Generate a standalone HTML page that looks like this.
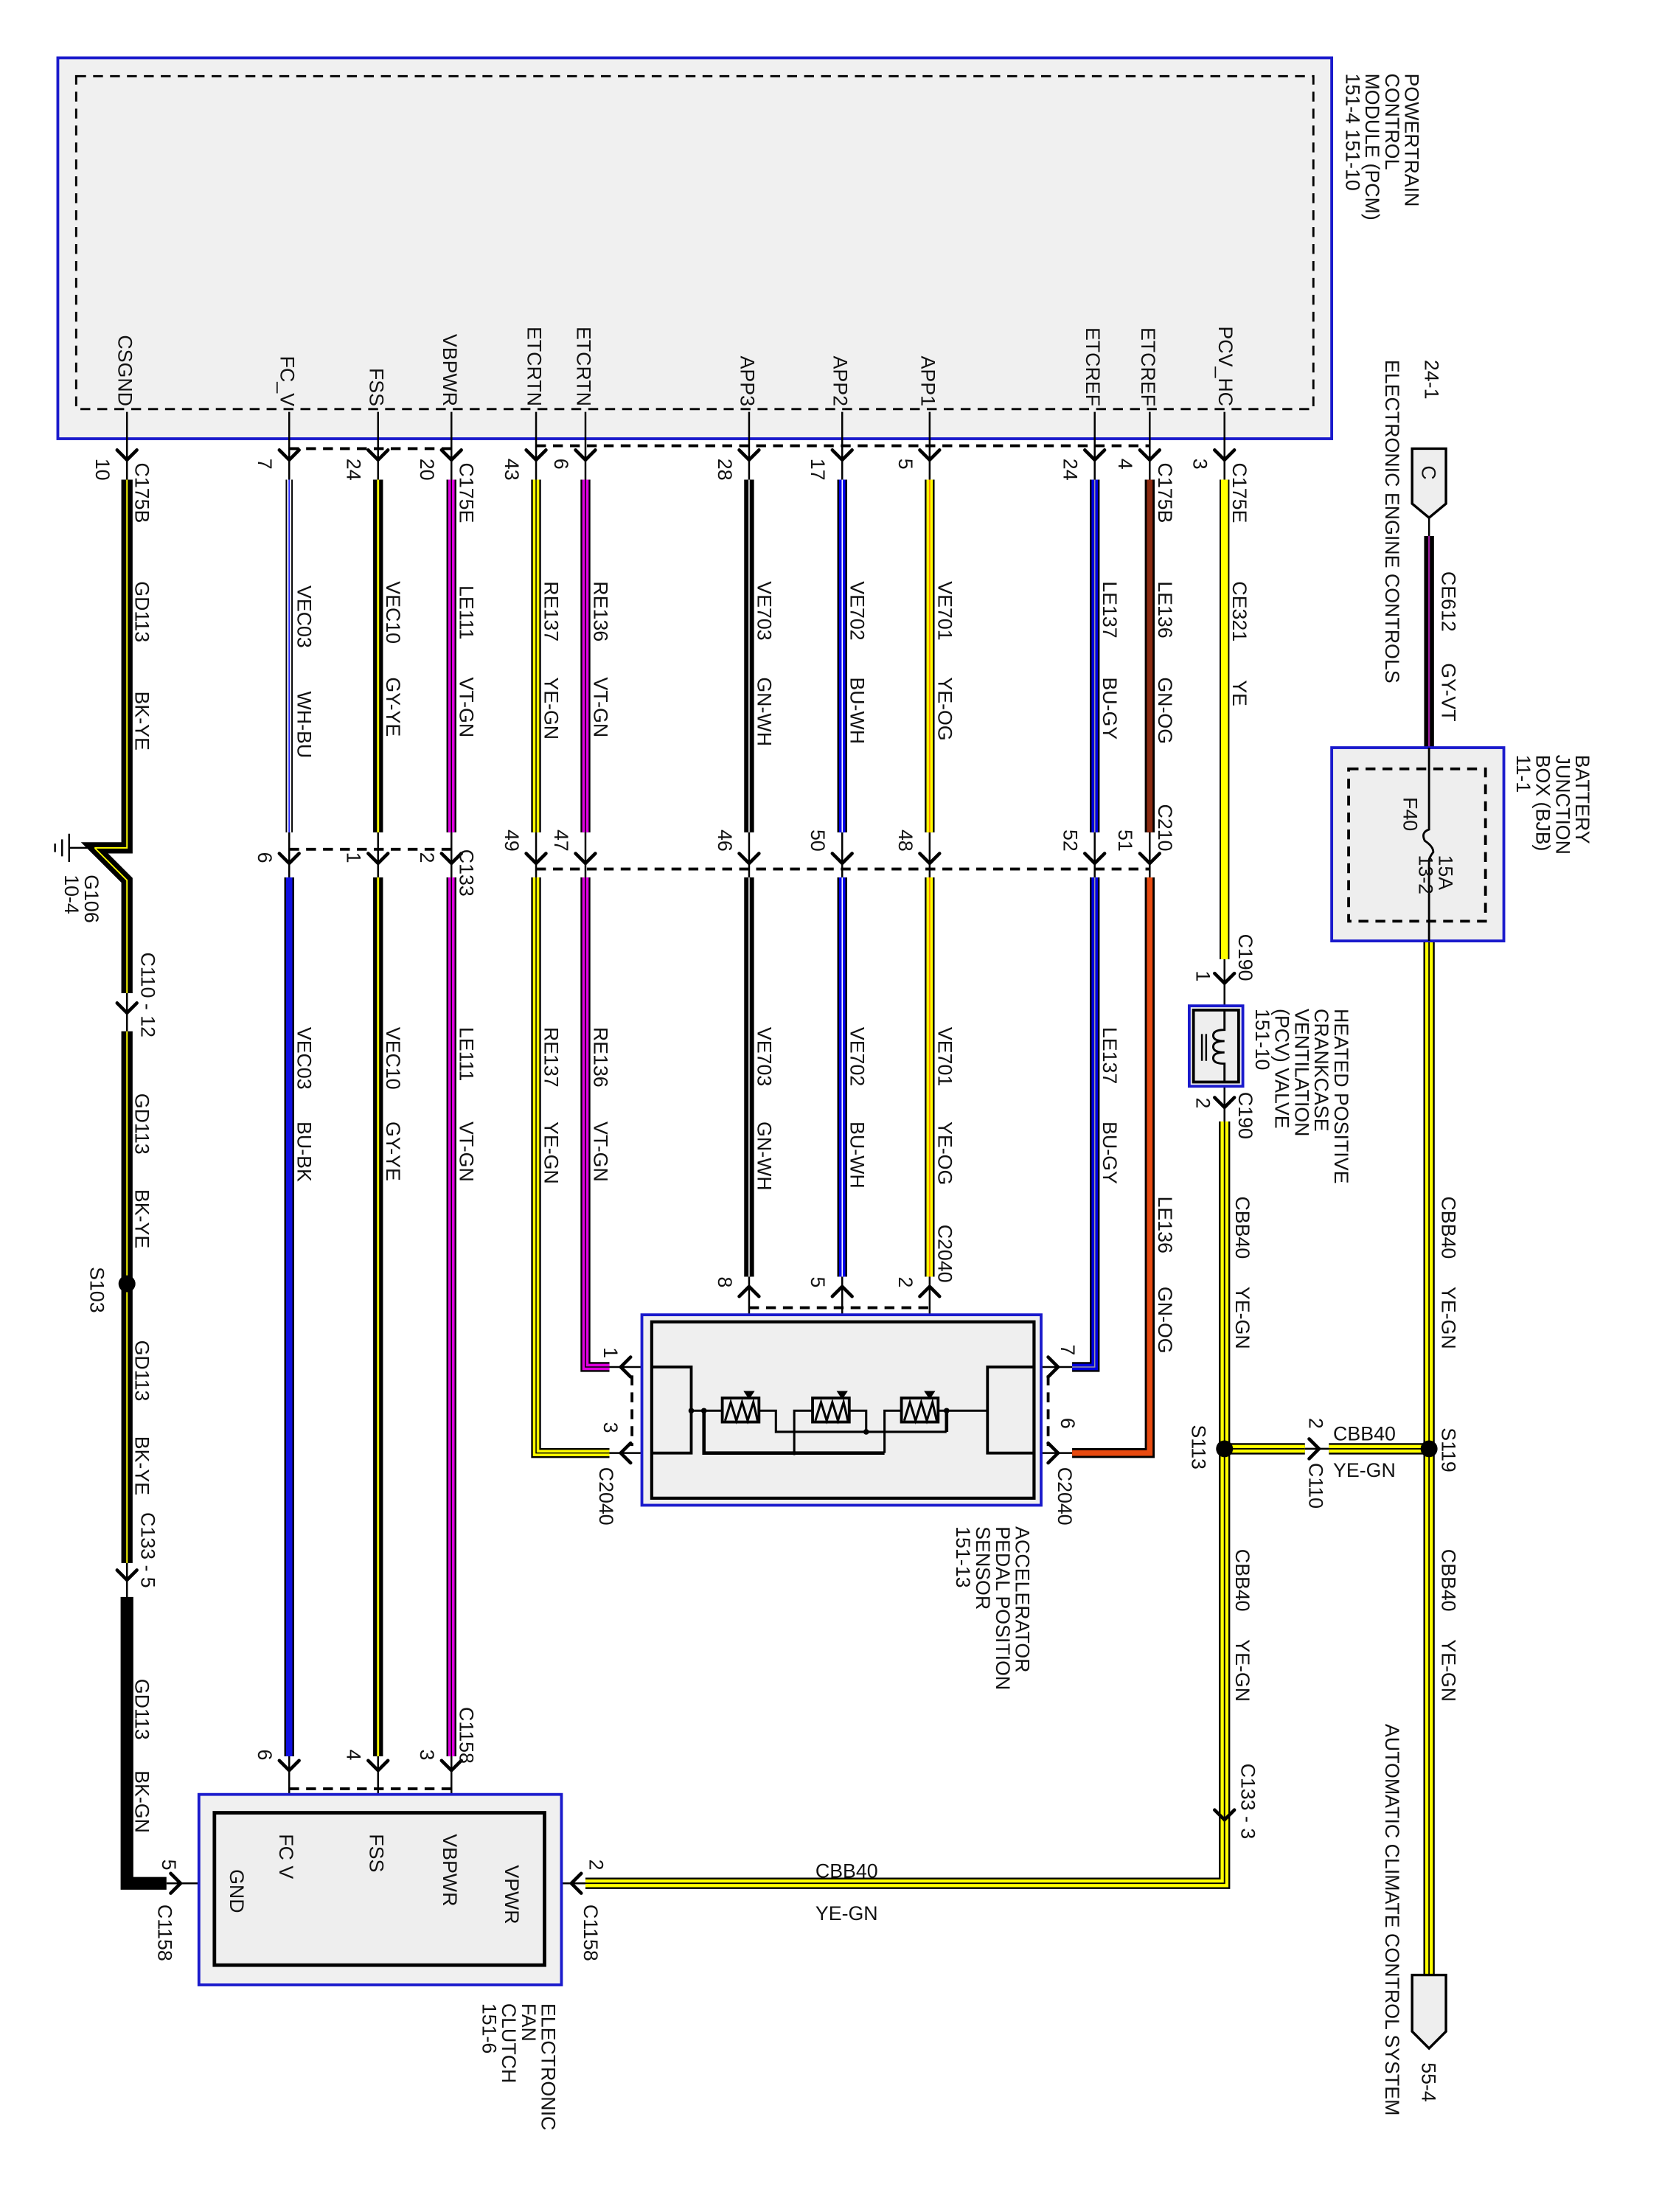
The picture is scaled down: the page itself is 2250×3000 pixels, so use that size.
<!DOCTYPE html>
<html><head><meta charset="utf-8"><style>
html,body{margin:0;padding:0;background:#fff;}
svg{display:block;}
text{font-family:"Liberation Sans",Arial,sans-serif;font-size:14px;fill:#111;}
.o{fill:none;stroke:#000;stroke-linejoin:miter;}
.t{fill:none;stroke:#000;stroke-width:1.3;}
.ch{fill:none;stroke:#000;stroke-width:2.4;stroke-linecap:round;}
.d{fill:none;stroke:#000;stroke-width:2;stroke-dasharray:7 5;}
</style></head><body>
<svg width="2250" height="3000" viewBox="0 0 1176 1568" preserveAspectRatio="none" xmlns="http://www.w3.org/2000/svg">
<rect x="0" y="0" width="1176" height="1568" fill="#fff"/>

<!-- PCM -->
<rect x="41" y="41" width="903" height="270" fill="#f0f0f0" stroke="#1a1acc" stroke-width="2"/>
<rect x="54" y="54" width="877" height="236" fill="none" stroke="#000" stroke-width="1.5" stroke-dasharray="7 5"/>
<g>
<text transform="translate(996,52) rotate(90)">POWERTRAIN</text>
<text transform="translate(982,52) rotate(90)">CONTROL</text>
<text transform="translate(968,52) rotate(90)">MODULE (PCM)</text>
<text transform="translate(954,52) rotate(90)">151-4   151-10</text>
</g>
<g text-anchor="end">
<text transform="translate(84,288) rotate(90)">CSGND</text>
<text transform="translate(199,288) rotate(90)">FC_V</text>
<text transform="translate(262,288) rotate(90)">FSS</text>
<text transform="translate(314,288) rotate(90)">VBPWR</text>
<text transform="translate(374,288) rotate(90)">ETCRTN</text>
<text transform="translate(409,288) rotate(90)">ETCRTN</text>
<text transform="translate(525,288) rotate(90)">APP3</text>
<text transform="translate(591,288) rotate(90)">APP2</text>
<text transform="translate(653,288) rotate(90)">APP1</text>
<text transform="translate(770,288) rotate(90)">ETCREF</text>
<text transform="translate(809,288) rotate(90)">ETCREF</text>
<text transform="translate(864,288) rotate(90)">PCV_HC</text>
</g>

<g class="t">
<path d="M90 292V342M205 292V342M268 292V342M320 292V342M380 292V342M415 292V342M531 292V342M597 292V342M659 292V342M776 292V342M815 292V342M868 292V342"/>
<path d="M205 588V624M268 588V624M320 588V624M380 588V624M415 588V624M531 588V624M597 588V624M659 588V624M776 588V624M815 588V624"/>
<path d="M90 700V735M90 1105V1135M868 680V800M1013 366V382M1013 528V669M1013 1396V1402"/>
<path d="M205 1240V1285M268 1240V1285M320 1240V1285"/>
<path d="M531 905V993M597 905V993M659 905V993"/>
<path d="M425 969H462M425 1030H462M733 969H762M733 1030H762M398 1335H418M118 1335H152M925 1027H945"/>
</g>
<g class="d">
<path d="M205 318H320M380 316H815"/>
<path d="M205 602H320M380 616H815"/>
<path d="M205 1268H320"/>
<path d="M531 927H659"/>
<path d="M448 975V1025M743 975V1025"/>
</g>

<!-- WIRES -->
<path class="o" stroke-width="8" d="M90 340V601H67L90 624V704M90 731V1108"/>
<path fill="none" stroke="#ff0" stroke-width="1" d="M90 340V601H67L90 624V704M90 731V1108"/>
<path class="o" stroke-width="9" d="M90 1132V1335H118"/>
<path class="t" stroke-width="1.5" d="M67 601H49M49 591V611M44 595V607M39 598V604"/>
<path class="o" stroke-width="5" d="M205 340V590"/>
<path fill="none" stroke="#fff" stroke-width="3" d="M205 340V590"/>
<path fill="none" stroke="#2222ff" stroke-width="1" d="M205 340V590"/>
<path class="o" stroke-width="7" d="M205 622V1245"/>
<path fill="none" stroke="#1010e0" stroke-width="4.5" d="M205 622V1245"/>
<path class="o" stroke-width="7" d="M268 340V590M268 622V1245"/>
<path fill="none" stroke="#ff0" stroke-width="1.5" d="M268 340V590M268 622V1245"/>
<path class="o" stroke-width="7" d="M320 340V590M320 622V1245"/>
<path fill="none" stroke="#e000e0" stroke-width="4.5" d="M320 340V590M320 622V1245"/>
<path fill="none" stroke="#000" stroke-width="0.8" d="M320 340V590M320 622V1245"/>
<path class="o" stroke-width="7" d="M380 340V590M380 622V1030H432"/>
<path fill="none" stroke="#ff0" stroke-width="4.5" d="M380 340V590M380 622V1030H432"/>
<path fill="none" stroke="#000" stroke-width="0.8" d="M380 340V590M380 622V1030H432"/>
<path class="o" stroke-width="7" d="M415 340V590M415 622V969H432"/>
<path fill="none" stroke="#e000e0" stroke-width="4.5" d="M415 340V590M415 622V969H432"/>
<path fill="none" stroke="#000" stroke-width="0.8" d="M415 340V590M415 622V969H432"/>
<path class="o" stroke-width="7" d="M531 340V590M531 622V905"/>
<path fill="none" stroke="#fff" stroke-width="0.8" d="M531 340V590M531 622V905"/>
<path class="o" stroke-width="7" d="M597 340V590M597 622V905"/>
<path fill="none" stroke="#0000ee" stroke-width="4.5" d="M597 340V590M597 622V905"/>
<path fill="none" stroke="#fff" stroke-width="0.8" d="M597 340V590M597 622V905"/>
<path class="o" stroke-width="7" d="M659 340V590M659 622V905"/>
<path fill="none" stroke="#ff0" stroke-width="4.5" d="M659 340V590M659 622V905"/>
<path fill="none" stroke="#f80" stroke-width="1" d="M659 340V590M659 622V905"/>
<path class="o" stroke-width="7" d="M776 340V590M776 622V969H760"/>
<path fill="none" stroke="#0000dd" stroke-width="4.5" d="M776 340V590M776 622V969H760"/>
<path fill="none" stroke="#999" stroke-width="0.8" d="M776 340V590M776 622V969H760"/>
<path class="o" stroke-width="7" d="M815 340V590M815 622V1030H760"/>
<path fill="none" stroke="#8b2a10" stroke-width="4" d="M815 340V590"/>
<path fill="none" stroke="#e84a10" stroke-width="4" d="M815 622V1030H760"/>
<path class="o" stroke-width="7" d="M868 340V680"/>
<path fill="none" stroke="#ff0" stroke-width="5" d="M868 340V680"/>
<path class="o" stroke-width="8" d="M868 795V1335H415M1013 667V1400M868 1027H925M942 1027H1013"/>
<path fill="none" stroke="#ff0" stroke-width="5.5" d="M868 795V1335H415M1013 667V1400M868 1027H925M942 1027H1013"/>
<path fill="none" stroke="#000" stroke-width="1" d="M868 795V1335H415M1013 667V1400M868 1027H925M942 1027H1013"/>
<path class="o" stroke-width="7" d="M1013 380V530"/>
<path fill="none" stroke="#a020a0" stroke-width="1.2" d="M1013 380V530"/>

<circle cx="90" cy="910" r="6" fill="#000"/>
<circle cx="868" cy="1027" r="6" fill="#000"/>
<circle cx="1013" cy="1027" r="6" fill="#000"/>

<g class="ch">
<path d="M83 319L90 326L97 319M198 319L205 326L212 319M261 319L268 326L275 319M313 319L320 326L327 319M373 319L380 326L387 319M408 319L415 326L422 319M524 319L531 326L538 319M590 319L597 326L604 319M652 319L659 326L666 319M769 319L776 326L783 319M808 319L815 326L822 319M861 319L868 326L875 319"/>
<path d="M198 605L205 612L212 605M261 605L268 612L275 605M313 605L320 612L327 605M373 605L380 612L387 605M408 605L415 612L422 605M524 605L531 612L538 605M590 605L597 612L604 605M652 605L659 612L666 605M769 605L776 612L783 605M808 605L815 612L822 605"/>
<path d="M83 711L90 718L97 711M83 1113L90 1120L97 1113M861 1283L868 1290L875 1283M861 690L868 697L875 690M861 778L868 785L875 778"/>
<path d="M198 1248L205 1255L212 1248M261 1248L268 1255L275 1248M313 1248L320 1255L327 1248"/>
<path d="M524 919L531 912L538 919M590 919L597 912L604 919M652 919L659 912L666 919"/>
<path d="M447 962L440 969L447 976M447 1023L440 1030L447 1037M412 1328L405 1335L412 1342"/>
<path d="M743 962L750 969L743 976M743 1023L750 1030L743 1037M928 1020L935 1027L928 1034M121 1328L128 1335L121 1342"/>
</g>

<g>
<text transform="translate(68,325) rotate(90)">10</text>
<text transform="translate(96,328) rotate(90)">C175B</text>
<text transform="translate(183,325) rotate(90)">7</text>
<text transform="translate(246,325) rotate(90)">24</text>
<text transform="translate(298,325) rotate(90)">20</text>
<text transform="translate(326,328) rotate(90)">C175E</text>
<text transform="translate(358,325) rotate(90)">43</text>
<text transform="translate(393,325) rotate(90)">6</text>
<text transform="translate(509,325) rotate(90)">28</text>
<text transform="translate(575,325) rotate(90)">17</text>
<text transform="translate(637,325) rotate(90)">5</text>
<text transform="translate(754,325) rotate(90)">24</text>
<text transform="translate(793,325) rotate(90)">4</text>
<text transform="translate(821,328) rotate(90)">C175B</text>
<text transform="translate(846,325) rotate(90)">3</text>
<text transform="translate(874,328) rotate(90)">C175E</text>
</g>
<g>
<text transform="translate(96,412) rotate(90)">GD113</text><text transform="translate(96,490) rotate(90)">BK-YE</text>
<text transform="translate(211,415) rotate(90)">VEC03</text><text transform="translate(211,490) rotate(90)">WH-BU</text>
<text transform="translate(274,412) rotate(90)">VEC10</text><text transform="translate(274,480) rotate(90)">GY-YE</text>
<text transform="translate(326,415) rotate(90)">LE111</text><text transform="translate(326,480) rotate(90)">VT-GN</text>
<text transform="translate(386,412) rotate(90)">RE137</text><text transform="translate(386,480) rotate(90)">YE-GN</text>
<text transform="translate(421,412) rotate(90)">RE136</text><text transform="translate(421,480) rotate(90)">VT-GN</text>
<text transform="translate(537,412) rotate(90)">VE703</text><text transform="translate(537,480) rotate(90)">GN-WH</text>
<text transform="translate(603,412) rotate(90)">VE702</text><text transform="translate(603,480) rotate(90)">BU-WH</text>
<text transform="translate(665,412) rotate(90)">VE701</text><text transform="translate(665,480) rotate(90)">YE-OG</text>
<text transform="translate(782,412) rotate(90)">LE137</text><text transform="translate(782,480) rotate(90)">BU-GY</text>
<text transform="translate(821,412) rotate(90)">LE136</text><text transform="translate(821,480) rotate(90)">GN-OG</text>
<text transform="translate(874,412) rotate(90)">CE321</text><text transform="translate(874,482) rotate(90)">YE</text>
</g>
<g>
<text transform="translate(183,604) rotate(90)">6</text>
<text transform="translate(246,604) rotate(90)">1</text>
<text transform="translate(298,604) rotate(90)">2</text>
<text transform="translate(326,602) rotate(90)">C133</text>
<text transform="translate(358,588) rotate(90)">49</text>
<text transform="translate(393,588) rotate(90)">47</text>
<text transform="translate(509,588) rotate(90)">46</text>
<text transform="translate(575,588) rotate(90)">50</text>
<text transform="translate(637,588) rotate(90)">48</text>
<text transform="translate(754,588) rotate(90)">52</text>
<text transform="translate(793,588) rotate(90)">51</text>
<text transform="translate(821,570) rotate(90)">C210</text>
</g>
<g>
<text transform="translate(211,728) rotate(90)">VEC03</text><text transform="translate(211,795) rotate(90)">BU-BK</text>
<text transform="translate(274,728) rotate(90)">VEC10</text><text transform="translate(274,795) rotate(90)">GY-YE</text>
<text transform="translate(326,728) rotate(90)">LE111</text><text transform="translate(326,795) rotate(90)">VT-GN</text>
<text transform="translate(386,728) rotate(90)">RE137</text><text transform="translate(386,795) rotate(90)">YE-GN</text>
<text transform="translate(421,728) rotate(90)">RE136</text><text transform="translate(421,795) rotate(90)">VT-GN</text>
<text transform="translate(537,728) rotate(90)">VE703</text><text transform="translate(537,795) rotate(90)">GN-WH</text>
<text transform="translate(603,728) rotate(90)">VE702</text><text transform="translate(603,795) rotate(90)">BU-WH</text>
<text transform="translate(665,728) rotate(90)">VE701</text><text transform="translate(665,795) rotate(90)">YE-OG</text>
<text transform="translate(665,868) rotate(90)">C2040</text>
<text transform="translate(782,728) rotate(90)">LE137</text><text transform="translate(782,795) rotate(90)">BU-GY</text>
<text transform="translate(821,848) rotate(90)">LE136</text><text transform="translate(821,912) rotate(90)">GN-OG</text>
<text transform="translate(509,905) rotate(90)">8</text>
<text transform="translate(575,905) rotate(90)">5</text>
<text transform="translate(637,905) rotate(90)">2</text>
</g>
<g>
<text transform="translate(60,620) rotate(90)">G106</text>
<text transform="translate(46,620) rotate(90)">10-4</text>
<text transform="translate(100,675) rotate(90)">C110  -  12</text>
<text transform="translate(96,775) rotate(90)">GD113</text><text transform="translate(96,843) rotate(90)">BK-YE</text>
<text transform="translate(64,898) rotate(90)">S103</text>
<text transform="translate(96,950) rotate(90)">GD113</text><text transform="translate(96,1018) rotate(90)">BK-YE</text>
<text transform="translate(100,1072) rotate(90)">C133  -  5</text>
<text transform="translate(96,1190) rotate(90)">GD113</text><text transform="translate(96,1255) rotate(90)">BK-GN</text>
</g>

<!-- APP sensor -->
<rect x="455" y="932" width="283" height="135" fill="#f0f0f0" stroke="#1a1acc" stroke-width="2"/>
<rect x="462" y="937" width="271" height="125" fill="#efefef" stroke="#000" stroke-width="2.2"/>
<g fill="none" stroke="#000" stroke-width="1.6">
<path d="M462 969H490V1030H462M733 969H700V1030H733" stroke-width="2"/>
<path d="M490 1000H512M538 1000H550V1015H671M576 1000H563V1030M602 1000H614V1015M639 1000H627V1030M665 1000H700"/>
<path d="M499 1000V1030H627" stroke-width="2.4"/>
<path d="M671 1000V1015" stroke-width="2.4"/>
<rect x="512" y="991" width="26" height="17" stroke-width="2"/>
<rect x="576" y="991" width="26" height="17" stroke-width="2"/>
<rect x="639" y="991" width="26" height="17" stroke-width="2"/>
<path d="M514 1007L518 994L522 1007L526 994L530 1007L534 994L537 1007"/>
<path d="M578 1007L582 994L586 1007L590 994L594 1007L598 994L601 1007"/>
<path d="M641 1007L645 994L649 1007L653 994L657 1007L661 994L664 1007"/>
</g>
<g fill="#000">
<path d="M527 986H535L531 992Z"/><path d="M593 986H601L597 992Z"/><path d="M655 986H663L659 992Z"/>
<circle cx="490" cy="1000" r="2"/><circle cx="499" cy="1000" r="2"/><circle cx="614" cy="1015" r="2"/><circle cx="671" cy="1000" r="2"/><circle cx="563" cy="1030" r="1.5"/>
</g>
<g>
<text transform="translate(428,955) rotate(90)">1</text>
<text transform="translate(428,1008) rotate(90)">3</text>
<text transform="translate(425,1040) rotate(90)">C2040</text>
<text transform="translate(752,953) rotate(90)">7</text>
<text transform="translate(752,1005) rotate(90)">6</text>
<text transform="translate(750,1040) rotate(90)">C2040</text>
<text transform="translate(720,1082) rotate(90)">ACCELERATOR</text>
<text transform="translate(706,1082) rotate(90)">PEDAL POSITION</text>
<text transform="translate(692,1082) rotate(90)">SENSOR</text>
<text transform="translate(678,1082) rotate(90)">151-13</text>
</g>

<!-- Fan clutch -->
<rect x="141" y="1272" width="257" height="135" fill="#f0f0f0" stroke="#1a1acc" stroke-width="2"/>
<rect x="152" y="1285" width="234" height="108" fill="#eee" stroke="#000" stroke-width="2.5"/>
<g>
<text transform="translate(358,1322) rotate(90)">VPWR</text>
<text transform="translate(314,1300) rotate(90)">VBPWR</text>
<text transform="translate(262,1300) rotate(90)">FSS</text>
<text transform="translate(198,1300) rotate(90)">FC V</text>
<text transform="translate(163,1325) rotate(90)">GND</text>
<text transform="translate(183,1240) rotate(90)">6</text>
<text transform="translate(246,1240) rotate(90)">4</text>
<text transform="translate(298,1240) rotate(90)">3</text>
<text transform="translate(326,1210) rotate(90)">C1158</text>
<text transform="translate(418,1318) rotate(90)">2</text>
<text transform="translate(414,1350) rotate(90)">C1158</text>
<text transform="translate(115,1318) rotate(90)">5</text>
<text transform="translate(112,1350) rotate(90)">C1158</text>
<text transform="translate(384,1420) rotate(90)">ELECTRONIC</text>
<text transform="translate(370,1420) rotate(90)">FAN</text>
<text transform="translate(356,1420) rotate(90)">CLUTCH</text>
<text transform="translate(342,1420) rotate(90)">151-6</text>
<text x="578" y="1331">CBB40</text>
<text x="578" y="1361">YE-GN</text>
</g>

<!-- PCV valve -->
<rect x="843" y="713" width="38" height="57" fill="#f0f0f0" stroke="#1a1acc" stroke-width="2"/>
<rect x="846" y="716" width="32" height="51" fill="#eee" stroke="#000" stroke-width="2"/>
<path d="M868 716V730Q860 730 860 734Q860 738 868 738Q860 738 860 742Q860 746 868 746Q860 746 860 750Q860 754 868 754V767" fill="none" stroke="#000" stroke-width="1.5"/>
<path d="M852 733V752M855 733V752" stroke="#000" stroke-width="1.3"/>
<g>
<text transform="translate(878,662) rotate(90)">C190</text>
<text transform="translate(848,688) rotate(90)">1</text>
<text transform="translate(848,778) rotate(90)">2</text>
<text transform="translate(878,774) rotate(90)">C190</text>
<text transform="translate(946,715) rotate(90)">HEATED POSITIVE</text>
<text transform="translate(932,715) rotate(90)">CRANKCASE</text>
<text transform="translate(918,715) rotate(90)">VENTILATION</text>
<text transform="translate(904,715) rotate(90)">(PCV) VALVE</text>
<text transform="translate(890,715) rotate(90)">151-10</text>
<text transform="translate(876,848) rotate(90)">CBB40</text><text transform="translate(876,912) rotate(90)">YE-GN</text>
<text transform="translate(845,1010) rotate(90)">S113</text>
<text transform="translate(876,1098) rotate(90)">CBB40</text><text transform="translate(876,1162) rotate(90)">YE-GN</text>
<text transform="translate(880,1250) rotate(90)">C133  -  3</text>
<text transform="translate(928,1005) rotate(90)">2</text>
<text transform="translate(928,1037) rotate(90)">C110</text>
<text x="945" y="1021">CBB40</text>
<text x="945" y="1047">YE-GN</text>
</g>

<!-- right -->
<path d="M1001 318H1025V357L1013 367L1001 357Z" fill="#eee" stroke="#000" stroke-width="1.8"/>
<text transform="translate(1008,330) rotate(90)">C</text>
<g>
<text transform="translate(1010,255) rotate(90)">24-1</text>
<text transform="translate(982,255) rotate(90)">ELECTRONIC ENGINE CONTROLS</text>
<text transform="translate(1022,405) rotate(90)">CE612</text><text transform="translate(1022,470) rotate(90)">GY-VT</text>
</g>
<rect x="944" y="530" width="122" height="137" fill="#eee" stroke="#1a1acc" stroke-width="2"/>
<rect x="956" y="545" width="97" height="108" fill="none" stroke="#000" stroke-width="2" stroke-dasharray="7 5"/>
<path d="M1013 530V588Q1007 590 1010 596Q1016 600 1016 604Q1013 608 1013 610V667" fill="none" stroke="#000" stroke-width="1.5"/>
<g>
<text transform="translate(995,565) rotate(90)">F40</text>
<text transform="translate(1020,606) rotate(90)">15A</text>
<text transform="translate(1006,606) rotate(90)">13-2</text>
<text transform="translate(1117,535) rotate(90)">BATTERY</text>
<text transform="translate(1103,535) rotate(90)">JUNCTION</text>
<text transform="translate(1089,535) rotate(90)">BOX (BJB)</text>
<text transform="translate(1075,535) rotate(90)">11-1</text>
<text transform="translate(1022,848) rotate(90)">CBB40</text><text transform="translate(1022,912) rotate(90)">YE-GN</text>
<text transform="translate(1022,1012) rotate(90)">S119</text>
<text transform="translate(1022,1098) rotate(90)">CBB40</text><text transform="translate(1022,1162) rotate(90)">YE-GN</text>
<text transform="translate(1008,1462) rotate(90)">55-4</text>
<text transform="translate(982,1222) rotate(90)">AUTOMATIC CLIMATE CONTROL SYSTEM</text>
</g>
<path d="M1001 1400H1025V1440L1013 1452L1001 1440Z" fill="#eee" stroke="#000" stroke-width="1.8"/>
</svg>
</body></html>
